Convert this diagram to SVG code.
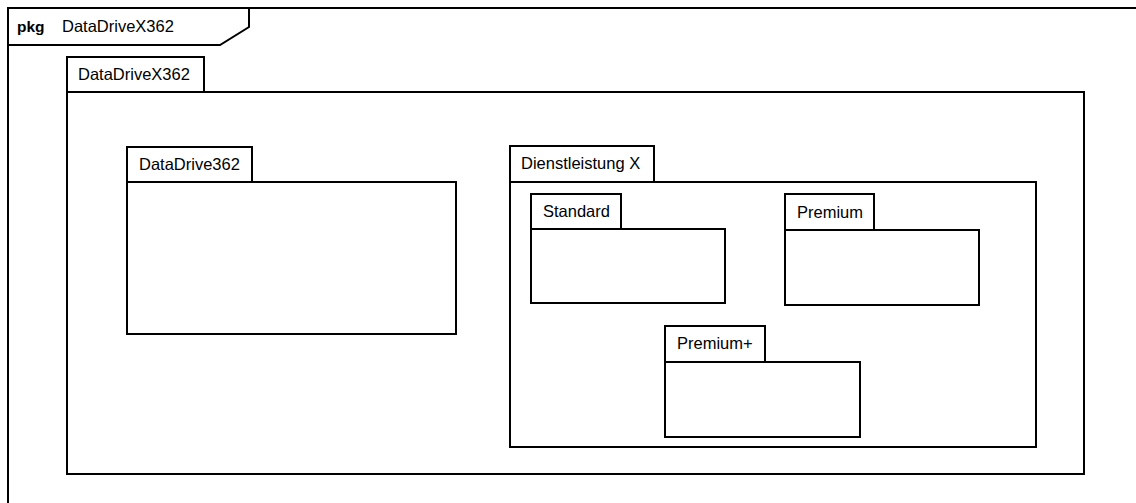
<svg xmlns="http://www.w3.org/2000/svg" width="1136" height="503" viewBox="0 0 1136 503">
<style>
.ln{fill:#fff;stroke:#000;stroke-width:2}
.fr{fill:none;stroke:#000;stroke-width:2}
text{font-family:"Liberation Sans",Arial,sans-serif;font-size:16.5px;fill:#000}
.b{font-weight:bold;font-size:15.5px}
</style>
<rect width="1136" height="503" fill="#fff"/>
<g id="frame">
<rect class="fr" x="8" y="8" width="1140" height="510"/>
<path class="fr" d="M8,45 H220 L249,27 V8"/>
<text class="b" x="17" y="32">pkg</text>
<text x="62" y="32">DataDriveX362</text>
</g>
<g id="pkg-DataDriveX362">
<rect class="ln" x="67" y="57" width="137" height="35"/>
<rect class="ln" x="67" y="92" width="1017" height="382"/>
<text x="78" y="80">DataDriveX362</text>
</g>
<g id="pkg-DataDrive362">
<rect class="ln" x="127" y="147" width="125" height="35"/>
<rect class="ln" x="127" y="182" width="329" height="152"/>
<text x="139" y="170">DataDrive362</text>
</g>
<g id="pkg-Dienstleistung">
<rect class="ln" x="510" y="146" width="144" height="36"/>
<rect class="ln" x="510" y="182" width="526" height="265"/>
<text x="521" y="169">Dienstleistung X</text>
</g>
<g id="pkg-Standard">
<rect class="ln" x="531" y="194" width="90" height="35"/>
<rect class="ln" x="531" y="229" width="194" height="74"/>
<text x="543" y="217">Standard</text>
</g>
<g id="pkg-Premium">
<rect class="ln" x="785" y="194" width="89" height="36"/>
<rect class="ln" x="785" y="230" width="194" height="75"/>
<text x="797" y="218">Premium</text>
</g>
<g id="pkg-PremiumPlus">
<rect class="ln" x="665" y="326" width="100" height="36"/>
<rect class="ln" x="665" y="362" width="195" height="75"/>
<text x="677" y="349">Premium+</text>
</g>
<g id="connectors"></g>
</svg>
